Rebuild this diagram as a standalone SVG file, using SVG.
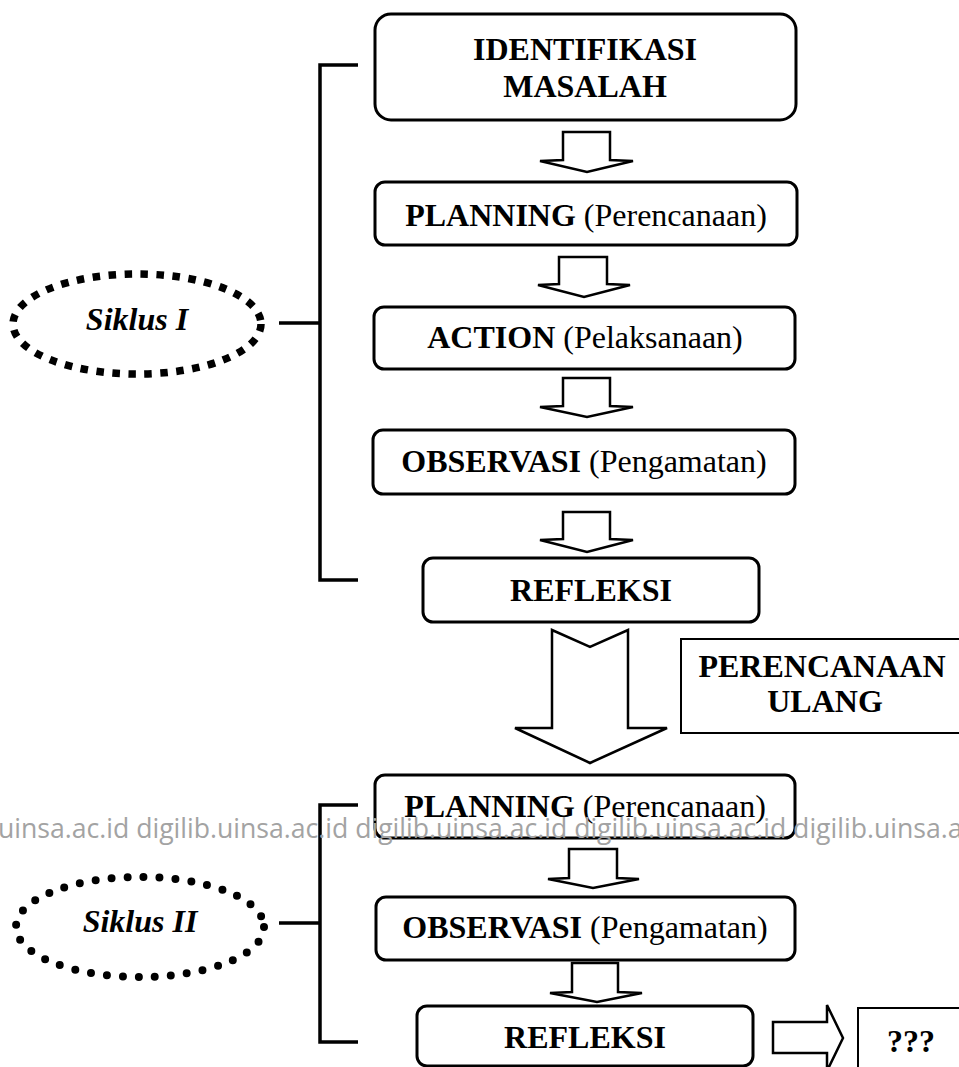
<svg xmlns="http://www.w3.org/2000/svg" width="959" height="1067" viewBox="0 0 959 1067">
<style>
.box{fill:none;stroke:#000;stroke-width:3}
.arr{fill:#fff;stroke:#000;stroke-width:2.5;stroke-linejoin:miter}
.br{fill:none;stroke:#000;stroke-width:3.5}
.t{font-family:"Liberation Serif","Times New Roman",serif;font-size:32px;fill:#000;text-anchor:middle}
.b{font-weight:bold}
.n{font-weight:normal}
.si{font-family:"Liberation Serif","Times New Roman",serif;font-size:32px;font-weight:bold;font-style:italic;text-anchor:middle}
.wm{font-family:"Open Sans","Noto Sans",sans-serif;font-size:26.6px;fill:#a3a3a3}
</style>
<rect width="959" height="1067" fill="#fff"/>
<g id="connectors">
<path class="br" d="M358,65 H320 V580 H358 M279,323 H320"/>
<path class="br" d="M358,805 H320 V1042 H358 M279,923 H320"/>
<polygon class="arr" points="563,132 610,132 610,160 633,161 587,172 540,161 563,160"/>
<polygon class="arr" points="559,257 607,257 607,284 630,285 584,297 538,285 559,284"/>
<polygon class="arr" points="563,378 610,378 610,406 633,407 587,417 540,407 563,406"/>
<polygon class="arr" points="563,512 610,512 610,539 633,540 587,552 540,540 563,539"/>
<polygon class="arr" points="552,630 590,647 628,630 628,728 667,728 590,763 515,728 552,728"/>
<polygon class="arr" points="569,849 617,849 617,878 639,879 593,888 548,879 569,878"/>
<polygon class="arr" points="572,963 618,963 618,992 642,993 597,1002 550,993 572,992"/>
<polygon class="arr" points="773,1022 827,1022 827,1005 843,1038 827,1071 827,1053 773,1053"/>
</g>
<g id="siklus1">
<ellipse cx="137" cy="324" rx="124" ry="50" fill="none" stroke="#000" stroke-width="7.5" stroke-dasharray="7.5 8.5"/>
<text class="si" x="137" y="330">Siklus I</text>
</g>
<g id="siklus2">
<ellipse cx="140" cy="927" rx="124" ry="50" fill="none" stroke="#000" stroke-width="8" stroke-linecap="round" stroke-dasharray="0 16"/>
<text class="si" x="140" y="932">Siklus II</text>
</g>
<g id="identifikasi">
<rect class="box" x="375" y="14" width="421" height="106" rx="16"/>
<text class="t b" x="585" y="60">IDENTIFIKASI</text>
<text class="t b" x="585" y="97">MASALAH</text>
</g>
<g id="planning1">
<rect class="box" x="375" y="182" width="422" height="63" rx="10"/>
<text class="t" x="586" y="226"><tspan class="b">PLANNING</tspan> <tspan class="n">(Perencanaan)</tspan></text>
</g>
<g id="action">
<rect class="box" x="374" y="307" width="421" height="62" rx="10"/>
<text class="t" x="585" y="348"><tspan class="b">ACTION</tspan> <tspan class="n">(Pelaksanaan)</tspan></text>
</g>
<g id="observasi1">
<rect class="box" x="373" y="430" width="422" height="64" rx="10"/>
<text class="t" x="584" y="472"><tspan class="b">OBSERVASI</tspan> <tspan class="n">(Pengamatan)</tspan></text>
</g>
<g id="refleksi1">
<rect class="box" x="423" y="558" width="336" height="64" rx="10"/>
<text class="t b" x="591" y="601">REFLEKSI</text>
</g>
<g id="perencanaan-ulang">
<rect x="681" y="639" width="290" height="94" fill="none" stroke="#000" stroke-width="2"/>
<text class="t b" x="822" y="677">PERENCANAAN</text>
<text class="t b" x="825" y="712">ULANG</text>
</g>
<g id="planning2">
<rect class="box" x="375" y="775" width="420" height="63" rx="10"/>
<text class="t" x="585" y="817"><tspan class="b">PLANNING</tspan> <tspan class="n">(Perencanaan)</tspan></text>
</g>
<g id="observasi2">
<rect class="box" x="376" y="897" width="419" height="63" rx="10"/>
<text class="t" x="585" y="938"><tspan class="b">OBSERVASI</tspan> <tspan class="n">(Pengamatan)</tspan></text>
</g>
<g id="refleksi2">
<rect class="box" x="417" y="1006" width="336" height="60" rx="10"/>
<text class="t b" x="585" y="1048">REFLEKSI</text>
</g>
<g id="unknown">
<rect x="858" y="1008" width="110" height="70" fill="none" stroke="#000" stroke-width="2"/>
<text class="t b" x="911" y="1052">???</text>
</g>
<text class="wm" x="-2" y="838">uinsa.ac.id digilib.uinsa.ac.id digilib.uinsa.ac.id digilib.uinsa.ac.id digilib.uinsa.ac.id</text>
</svg>
